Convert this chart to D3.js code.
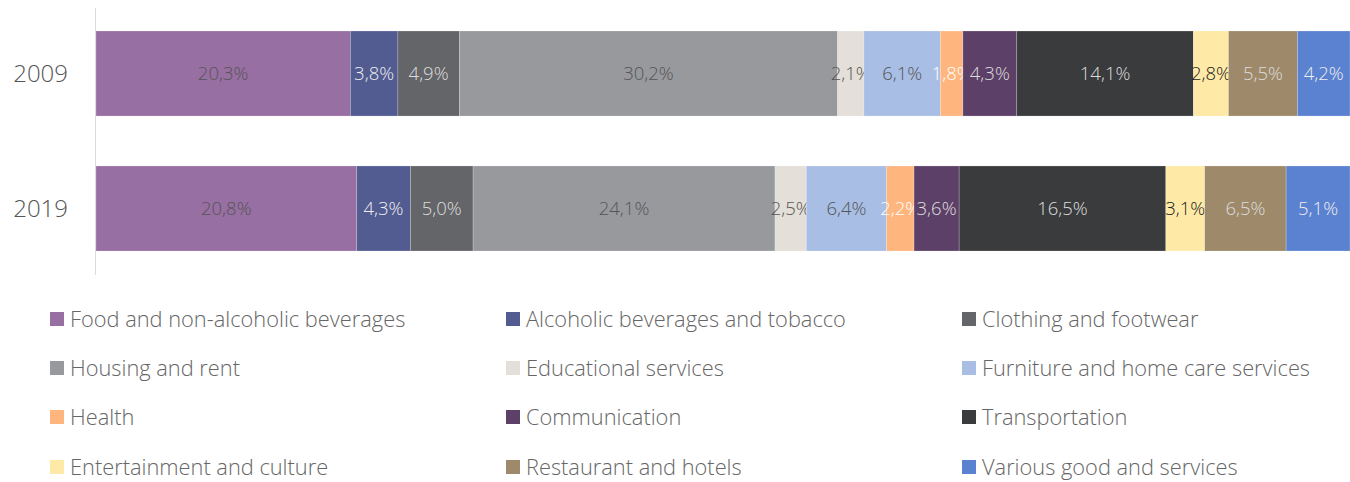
<!DOCTYPE html>
<html>
<head>
<meta charset="utf-8">
<script src="https://cdn.jsdelivr.net/npm/d3@7"></script>
<style>
  body { margin: 0; background: #fff; }
  svg { display: block; font-family: "Source Sans Pro", "Open Sans", Lato, sans-serif; font-weight: 300; }
</style>
</head>
<body>
<div id="chart"></div>
<script>
/** Categories, in stacking order **/
var categories = [
  "Food and non-alcoholic beverages", "Alcoholic beverages and tobacco", "Clothing and footwear",
  "Housing and rent", "Educational services", "Furniture and home care services",
  "Health", "Communication", "Transportation",
  "Entertainment and culture", "Restaurant and hotels", "Various good and services"
];

var years = ["2009", "2019"];

/** Shares in % **/
var values2009 = [20.3, 3.8, 4.9, 30.2, 2.1, 6.1, 1.8, 4.3, 14.1, 2.8, 5.5, 4.2];
var values2019 = [20.8, 4.3, 5.0, 24.1, 2.5, 6.4, 2.2, 3.6, 16.5, 3.1, 6.5, 5.1];

var colorList = ["#986fa2", "#525c91", "#646568", "#98999d", "#e4dfd8", "#a9bee5",
  "#feb67e", "#5c4068", "#3a3b3d", "#feeaa6", "#9e8a6a", "#5b82d0"];
var labelColorList = ["#555", "#eee", "#ddd", "#555", "#555", "#555",
  "#fff", "#ddd", "#ddd", "#222", "#ddd", "#eee"];

var width = 1350, height = 482;
var left = 96;

var rows = years.map(function (y, i) {
  var row = {year: y};
  var v = i === 0 ? values2009 : values2019;
  categories.forEach(function (c, j) { row[c] = v[j]; });
  return row;
});

var series = d3.stack().keys(categories)(rows);
var maxX = d3.max(series[series.length - 1], function (d) { return d[1]; });

var x = d3.scaleLinear().domain([0, maxX]).range([left, width]);
var y = d3.scaleBand().domain(years).range([17.5, 264.5]).paddingInner(0.37).paddingOuter(0.1);

var color = d3.scaleOrdinal().domain(categories).range(colorList);
var labelColor = d3.scaleOrdinal().domain(categories).range(labelColorList);

var svg = d3.select("#chart").append("svg")
  .attr("width", width)
  .attr("height", height);

svg.append("line")
  .attr("x1", 95.5).attr("x2", 95.5)
  .attr("y1", 8).attr("y2", 275)
  .attr("stroke", "#d9d9d9")
  .attr("stroke-width", 1);

var groups = svg.selectAll(".serie")
  .data(series)
  .enter().append("g")
  .attr("class", "serie")
  .attr("fill", function (d) { return color(d.key); });

groups.selectAll("rect")
  .data(function (d) { return d; })
  .enter().append("rect")
  .attr("x", function (d) { return x(d[0]); })
  .attr("y", function (d) { return y(d.data.year); })
  .attr("width", function (d) { return x(d[1]) - x(d[0]); })
  .attr("height", y.bandwidth())
  .attr("stroke", "rgba(255,255,255,0.35)")
  .attr("stroke-width", 0.6);

groups.selectAll("text")
  .data(function (d) { return d.map(function (p) { p.key = d.key; return p; }); })
  .enter().append("text")
  .attr("x", function (d) { return (x(d[0]) + x(d[1])) / 2; })
  .attr("y", function (d) { return y(d.data.year) + y.bandwidth() / 2; })
  .attr("dy", "0.35em")
  .attr("text-anchor", "middle")
  .attr("font-size", "18.5px")
  .attr("fill", function (d) { return labelColor(d.key); })
  .text(function (d) { return d3.format(".1f")(d[1] - d[0]).replace(".", ",") + "%"; });

svg.selectAll(".yearLabel")
  .data(years)
  .enter().append("text")
  .attr("class", "yearLabel")
  .attr("x", 68)
  .attr("y", function (d) { return y(d) + y.bandwidth() / 2; })
  .attr("dy", "0.35em")
  .attr("text-anchor", "end")
  .attr("font-size", "24px")
  .attr("fill", "#555")
  .text(function (d) { return d; });

/** Legend, three columns **/
var legendCols = [50, 506, 962];
var legendRows = [319, 368, 417, 467];

var legend = svg.selectAll(".legend")
  .data(categories)
  .enter().append("g")
  .attr("class", "legend")
  .attr("transform", function (d, i) {
    return "translate(" + legendCols[i % 3] + "," + legendRows[Math.floor(i / 3)] + ")";
  });

legend.append("rect")
  .attr("x", 0).attr("y", -7)
  .attr("width", 14).attr("height", 14)
  .attr("fill", function (d) { return color(d); });

legend.append("text")
  .attr("x", 20)
  .attr("dy", "0.35em")
  .attr("font-size", "21.8px")
  .attr("fill", "#666")
  .text(function (d) { return d; });
</script>
</body>
</html>
